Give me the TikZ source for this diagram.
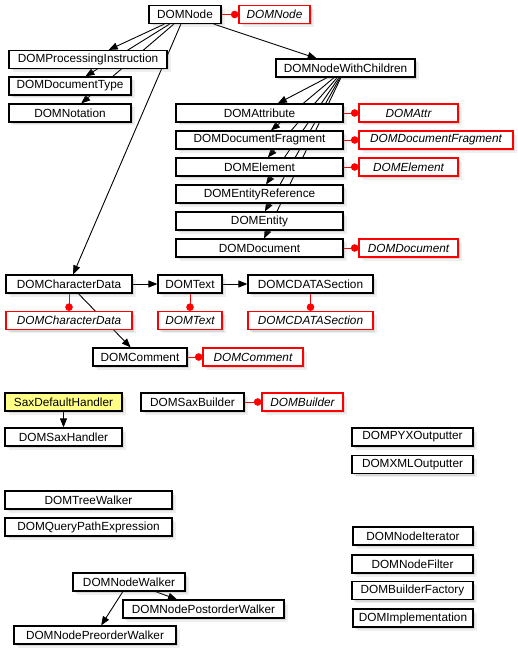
\documentclass[tikz,border=0pt]{standalone}
\usepackage{fontspec}
\setmainfont{Liberation Sans}
\usetikzlibrary{arrows.meta,shadows,backgrounds}
\definecolor{hiyellow}{RGB}{255,255,136}
\pgfdeclarelayer{paper}
\pgfsetlayers{paper,background,main}
\begin{document}
\begin{tikzpicture}[x=1pt,y=-1pt,
  cls/.style={draw=black,line width=1.2pt,fill=white,minimum height=18pt,inner sep=0pt,
    font=\fontsize{11.8}{14}\selectfont,
    drop shadow={shadow xshift=3.5pt,shadow yshift=-3.5pt,opacity=0.12},
    drop shadow={shadow xshift=2pt,shadow yshift=-2pt,opacity=0.2}},
  ifc/.style={cls,draw=red,font=\fontsize{11.8}{14}\selectfont\itshape},
  inh/.style={draw=black,line width=0.9pt,-{Triangle[length=9pt,width=7pt]}},
  lolly/.style={draw=red,line width=0.9pt,-{Circle[length=7.5pt]}},
]
\begin{pgfonlayer}{paper}
\fill[white] (0,0) rectangle (518,650);
\end{pgfonlayer}
\useasboundingbox (0,0) rectangle (518,650);

% top tree
\node[cls,minimum width=72pt] (DOMNode) at (185,14.5) {DOMNode};
\node[ifc,minimum width=71pt] (iDOMNode) at (274.5,14.5) {DOMNode};
\node[cls,minimum width=158pt] (DOMProcessingInstruction) at (88,59.5) {DOMProcessingInstruction};
\node[cls,minimum width=122pt] (DOMDocumentType) at (70,86) {DOMDocumentType};
\node[cls,minimum width=122pt] (DOMNotation) at (70,113) {DOMNotation};
\node[cls,minimum width=139pt] (DOMNodeWithChildren) at (345.5,68) {DOMNodeWithChildren};

\node[cls,minimum width=167pt] (DOMAttribute) at (259.5,113) {DOMAttribute};
\node[ifc,minimum width=99pt] (iDOMAttr) at (408.5,113) {DOMAttr};
\node[cls,minimum width=167pt] (DOMDocumentFragment) at (259.5,140) {DOMDocumentFragment};
\node[ifc,minimum width=154pt] (iDOMDocumentFragment) at (436,140) {DOMDocumentFragment};
\node[cls,minimum width=167pt] (DOMElement) at (259.5,167) {DOMElement};
\node[ifc,minimum width=99pt] (iDOMElement) at (408.5,167) {DOMElement};
\node[cls,minimum width=167pt] (DOMEntityReference) at (259.5,194) {DOMEntityReference};
\node[cls,minimum width=167pt] (DOMEntity) at (259.5,221) {DOMEntity};
\node[cls,minimum width=167pt] (DOMDocument) at (259.5,248) {DOMDocument};
\node[ifc,minimum width=99pt] (iDOMDocument) at (408.5,248) {DOMDocument};

% character data
\node[cls,minimum width=126pt] (DOMCharacterData) at (69,284) {DOMCharacterData};
\node[ifc,minimum width=126pt] (iDOMCharacterData) at (69,320.5) {DOMCharacterData};
\node[cls,minimum width=64pt] (DOMText) at (190,284) {DOMText};
\node[ifc,minimum width=64pt] (iDOMText) at (190,320.5) {DOMText};
\node[cls,minimum width=125pt] (DOMCDATASection) at (310.5,284) {DOMCDATASection};
\node[ifc,minimum width=125pt] (iDOMCDATASection) at (310.5,320.5) {DOMCDATASection};
\node[cls,minimum width=94pt] (DOMComment) at (140,357) {DOMComment};
\node[ifc,minimum width=100pt] (iDOMComment) at (253,357) {DOMComment};

% sax
\node[cls,fill=hiyellow,minimum width=117pt] (SaxDefaultHandler) at (63.5,402) {SaxDefaultHandler};
\node[cls,minimum width=103pt] (DOMSaxBuilder) at (192.5,402) {DOMSaxBuilder};
\node[ifc,minimum width=81pt] (iDOMBuilder) at (302.5,402) {DOMBuilder};
\node[cls,minimum width=117pt] (DOMSaxHandler) at (63.5,437) {DOMSaxHandler};

% right column
\node[cls,minimum width=121pt] (DOMPYXOutputter) at (412.5,437) {DOMPYXOutputter};
\node[cls,minimum width=121pt] (DOMXMLOutputter) at (412.5,464.5) {DOMXMLOutputter};
\node[cls,minimum width=120pt] (DOMNodeIterator) at (413,536) {DOMNodeIterator};
\node[cls,minimum width=121pt] (DOMNodeFilter) at (412.5,564) {DOMNodeFilter};
\node[cls,minimum width=121pt] (DOMBuilderFactory) at (412.5,590.5) {DOMBuilderFactory};
\node[cls,minimum width=120pt] (DOMImplementation) at (413,618) {DOMImplementation};

% walkers
\node[cls,minimum width=167pt] (DOMTreeWalker) at (88.5,500) {DOMTreeWalker};
\node[cls,minimum width=167pt] (DOMQueryPathExpression) at (88.5,527) {DOMQueryPathExpression};
\node[cls,minimum width=112pt] (DOMNodeWalker) at (129,582) {DOMNodeWalker};
\node[cls,minimum width=161pt] (DOMNodePostorderWalker) at (203.5,609) {DOMNodePostorderWalker};
\node[cls,minimum width=162pt] (DOMNodePreorderWalker) at (95,635) {DOMNodePreorderWalker};

\begin{pgfonlayer}{background}
\draw[inh] (DOMNode) -- (DOMProcessingInstruction);
\draw[inh] (DOMNode) -- (DOMDocumentType);
\draw[inh] (DOMNode) -- (DOMNotation);
\draw[inh] (DOMNode) -- (DOMCharacterData);
\draw[inh] (DOMNode) -- (DOMNodeWithChildren);
\draw[inh] (DOMNodeWithChildren) -- (DOMAttribute);
\draw[inh] (DOMNodeWithChildren) -- (DOMDocumentFragment);
\draw[inh] (DOMNodeWithChildren) -- (DOMElement);
\draw[inh] (DOMNodeWithChildren) -- (DOMEntityReference);
\draw[inh] (DOMNodeWithChildren) -- (DOMEntity);
\draw[inh] (DOMNodeWithChildren) -- (DOMDocument);
\draw[inh] (DOMCharacterData) -- (DOMText);
\draw[inh] (DOMText) -- (DOMCDATASection);
\draw[inh] (DOMCharacterData) -- (DOMComment);
\draw[inh] (SaxDefaultHandler) -- (DOMSaxHandler);
\draw[inh] (DOMNodeWalker) -- (DOMNodePostorderWalker);
\draw[inh] (DOMNodeWalker) -- (DOMNodePreorderWalker);

\draw[lolly] (DOMNode) -- (iDOMNode);
\draw[lolly] (DOMAttribute) -- (iDOMAttr);
\draw[lolly] (DOMDocumentFragment) -- (iDOMDocumentFragment);
\draw[lolly] (DOMElement) -- (iDOMElement);
\draw[lolly] (DOMDocument) -- (iDOMDocument);
\draw[lolly] (DOMCharacterData) -- (iDOMCharacterData);
\draw[lolly] (DOMText) -- (iDOMText);
\draw[lolly] (DOMCDATASection) -- (iDOMCDATASection);
\draw[lolly] (DOMComment) -- (iDOMComment);
\draw[lolly] (DOMSaxBuilder) -- (iDOMBuilder);
\end{pgfonlayer}
\end{tikzpicture}
\end{document}
